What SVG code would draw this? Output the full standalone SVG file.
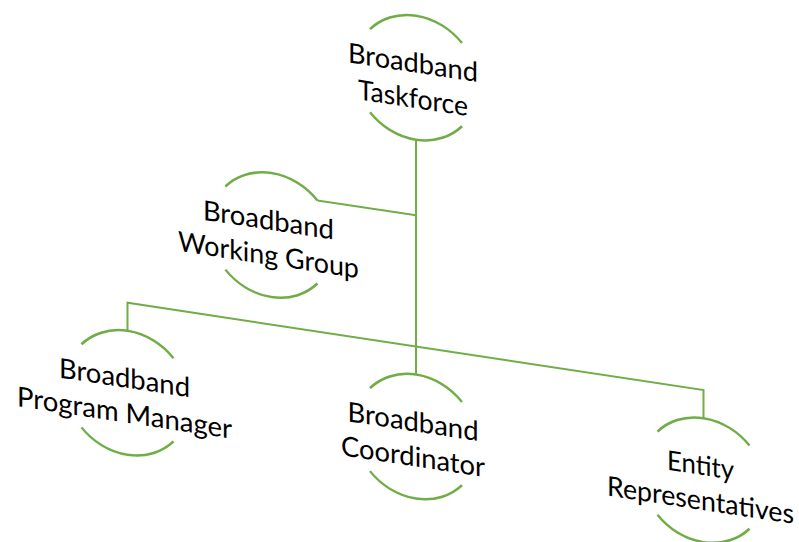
<svg xmlns="http://www.w3.org/2000/svg" width="799" height="542" viewBox="0 0 799 542">
<style>
.arc{fill:none;stroke:#70AD47;stroke-width:2.5}
.ln{fill:none;stroke:#70AD47;stroke-width:2}
text{font-family:Lato,"Liberation Sans",sans-serif;font-size:27.5px;fill:#000;text-anchor:middle}
</style>
<rect width="799" height="542" fill="#fff"/>
<g transform="matrix(1,0.1516,0,1,0,0)">
<g id="connectors">
<path class="ln" d="M416,76.6 V311.5"/>
<path class="ln" d="M317.4,152.3 H416"/>
<path class="ln" d="M127.5,311.5 V283.4 H703.5 V311.5"/>
</g>
<g id="taskforce" transform="translate(416,14.6)">
<path class="arc" d="M-46,-41.57 A62,62 0 0 1 46,-41.57"/>
<path class="arc" d="M-46,41.57 A62,62 0 0 0 46,41.57"/>
<text x="-3" y="-5" textLength="130" lengthAdjust="spacingAndGlyphs">Broadband</text>
<text x="-3" y="30.5" textLength="110" lengthAdjust="spacingAndGlyphs">Taskforce</text>
</g>
<g id="working-group" transform="translate(271.4,193.9)">
<path class="arc" d="M-46,-41.57 A62,62 0 0 1 46,-41.57"/>
<path class="arc" d="M-46,41.57 A62,62 0 0 0 46,41.57"/>
<text x="-3" y="-5" textLength="131" lengthAdjust="spacingAndGlyphs">Broadband</text>
<text x="-3" y="30" textLength="181" lengthAdjust="spacingAndGlyphs">Working Group</text>
</g>
<g id="program-manager" transform="translate(127.5,373.5)">
<path class="arc" d="M-46,-41.57 A62,62 0 0 1 46,-41.57"/>
<path class="arc" d="M-46,41.57 A62,62 0 0 0 46,41.57"/>
<text x="-3" y="-5" textLength="131" lengthAdjust="spacingAndGlyphs">Broadband</text>
<text x="-3" y="30" textLength="215" lengthAdjust="spacingAndGlyphs">Program Manager</text>
</g>
<g id="coordinator" transform="translate(416,373.5)">
<path class="arc" d="M-46,-41.57 A62,62 0 0 1 46,-41.57"/>
<path class="arc" d="M-46,41.57 A62,62 0 0 0 46,41.57"/>
<text x="-3" y="-5" textLength="131" lengthAdjust="spacingAndGlyphs">Broadband</text>
<text x="-3" y="30" textLength="144" lengthAdjust="spacingAndGlyphs">Coordinator</text>
</g>
<g id="entity-representatives" transform="translate(703.5,373.5)">
<path class="arc" d="M-46,-41.57 A62,62 0 0 1 46,-41.57"/>
<path class="arc" d="M-46,41.57 A62,62 0 0 0 46,41.57"/>
<text x="-3" y="-5" textLength="67" lengthAdjust="spacingAndGlyphs">Entity</text>
<text x="-3" y="30" textLength="187" lengthAdjust="spacingAndGlyphs">Representatives</text>
</g>
</g>
</svg>
